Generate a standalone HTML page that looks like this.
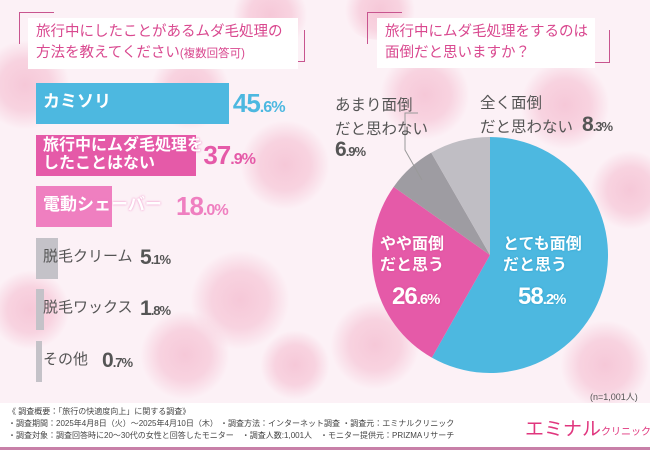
<!DOCTYPE html>
<html><head><meta charset="utf-8"><style>
*{margin:0;padding:0;box-sizing:border-box}
body{width:650px;height:450px;overflow:hidden;font-family:"Liberation Sans","Noto Sans CJK JP",sans-serif;background:#fcf1f6;position:relative}
.fl{position:absolute;border-radius:50%;background:radial-gradient(circle,#f6c8d8 0%,#f8d3e0 40%,rgba(250,225,234,0) 70%)}
.title{position:absolute;background:#fff;color:#d9488f;font-size:14.5px;line-height:21px;padding:4px 8px;white-space:nowrap}
.brk{position:absolute;border-color:#c8558f;border-style:solid}
.bar{position:absolute;left:36px;height:41px}
.lab{position:absolute;font-weight:bold;white-space:nowrap}
.val{position:absolute;font-weight:bold;white-space:nowrap;letter-spacing:-1px}
.val small{font-size:0.62em}
</style></head><body>
<div>
<div class="fl" style="left:-20px;top:40px;width:90px;height:90px"></div>
<div class="fl" style="left:150px;top:50px;width:80px;height:80px"></div>
<div class="fl" style="left:240px;top:120px;width:90px;height:90px"></div>
<div class="fl" style="left:190px;top:250px;width:100px;height:100px"></div>
<div class="fl" style="left:140px;top:310px;width:90px;height:90px"></div>
<div class="fl" style="left:-10px;top:270px;width:80px;height:80px"></div>
<div class="fl" style="left:260px;top:330px;width:70px;height:70px"></div>
<div class="fl" style="left:380px;top:50px;width:90px;height:90px"></div>
<div class="fl" style="left:520px;top:60px;width:90px;height:90px"></div>
<div class="fl" style="left:590px;top:150px;width:80px;height:80px"></div>
<div class="fl" style="left:560px;top:320px;width:90px;height:90px"></div>
<div class="fl" style="left:330px;top:300px;width:90px;height:90px"></div>
<div class="fl" style="left:230px;top:-20px;width:80px;height:70px"></div>
<div class="fl" style="left:340px;top:-20px;width:80px;height:60px"></div>
</div>

<div class="brk" style="left:19px;top:12px;width:35px;height:32px;border-width:1.5px 0 0 1.5px"></div>
<div class="brk" style="left:270px;top:30px;width:35px;height:32px;border-width:0 1.5px 1.5px 0"></div>
<div class="title" style="left:28px;top:18px;width:270px">旅行中にしたことがあるムダ毛処理の<br>方法を教えてください<span style="font-size:11.5px">(複数回答可)</span></div>

<div class="brk" style="left:367px;top:12px;width:35px;height:32px;border-width:1.5px 0 0 1.5px"></div>
<div class="brk" style="left:580px;top:30px;width:30px;height:33px;border-width:0 1.5px 1.5px 0"></div>
<div class="title" style="left:377px;top:18px;width:218px">旅行中にムダ毛処理をするのは<br>面倒だと思いますか？</div>

<div id="bars"></div>
<svg id="pie" width="650" height="450" style="position:absolute;left:0;top:0"></svg>

<div class="lab" style="left:380px;top:234px;color:#fff;font-size:16px;line-height:21px;text-shadow:0 0 2px #d9488f">やや面倒<br>だと思う</div>
<div class="val" style="left:392px;top:283px;color:#fff;font-size:24px;text-shadow:0 0 2px #d9488f">26<small>.6%</small></div>
<div class="lab" style="left:503px;top:234px;color:#fff;font-size:16px;line-height:21px;text-shadow:0 0 2px #2ea0cc">とても面倒<br>だと思う</div>
<div class="val" style="left:518px;top:283px;color:#fff;font-size:24px;text-shadow:0 0 2px #2ea0cc">58<small>.2%</small></div>
<div class="lab" style="left:335px;top:94px;color:#555;font-size:15.5px;line-height:24px;font-weight:normal">あまり面倒<br>だと思わない</div>
<div class="val" style="left:335px;top:138px;color:#555;font-size:21px">6<small>.9%</small></div>
<div class="lab" style="left:480px;top:92px;color:#555;font-size:15.5px;line-height:24px;font-weight:normal">全く面倒<br>だと思わない</div>
<div class="val" style="left:582px;top:113px;color:#555;font-size:21px">8<small>.3%</small></div>
<div style="position:absolute;left:590px;top:390px;font-size:9px;color:#555">(n=1,001人)</div>

<div style="position:absolute;left:0;top:403px;width:650px;height:44px;background:#fff"></div>
<div style="position:absolute;left:0;top:447px;width:650px;height:3px;background:#c880a8"></div>
<div style="position:absolute;left:8px;top:406px;font-size:8px;line-height:12px;color:#444;white-space:nowrap">《 調査概要：「旅行の快適度向上」に関する調査》<br>・調査期間：2025年4月8日（火）～2025年4月10日（木） ・調査方法：インターネット調査 ・調査元：エミナルクリニック<br>・調査対象：調査回答時に20～30代の女性と回答したモニター　・調査人数:1,001人　・モニター提供元：PRIZMAリサーチ</div>
<div style="position:absolute;left:525px;top:414px;color:#e0367e;font-size:19px;white-space:nowrap">エミナル<span style="font-size:10px">クリニック</span></div>

<script>
const barLabels=["カミソリ","旅行中にムダ毛処理を<br>したことはない","電動シェーバー","脱毛クリーム","脱毛ワックス","その他"];
const barValues=[45.6,37.9,18.0,5.1,1.8,0.7];
const barColors=["#4db8e0","#e55aa8","#ef7fc0","#c4c2c8","#c4c2c8","#c4c2c8"];
const pieLabels=["とても面倒だと思う","やや面倒だと思う","あまり面倒だと思わない","全く面倒だと思わない"];
const pieValues=[58.2,26.6,6.9,8.3];
const pieColors=["#4db8e0","#e55aa8","#9e9ca2","#c0bec4"];

const xs=v=>v*4.23;
const rowY=i=>83+i*51.5;
const labelW=[0,0,126,90,90,52];
const bars=document.getElementById('bars');
barValues.forEach((v,i)=>{
  const b=document.createElement('div');
  b.className='bar';
  
  
  const w=Math.max(xs(v),i>=3?6:0);
  b.style.cssText=`top:${rowY(i)}px;width:${w}px;background:${barColors[i]}`;
  bars.appendChild(b);
  const l=document.createElement('div');
  l.className='lab';
  
  
  const white=i<3;
  l.style.cssText=`left:43px;top:${rowY(i)+(i==1?2:10)}px;font-size:${i==1?16:(white?17:15)}px;line-height:18px;color:${white?'#fff':'#555'};${white?'text-shadow:0 0 2px '+barColors[i]:'font-weight:normal'}`;
  l.innerHTML=barLabels[i];
  bars.appendChild(l);
  const t=document.createElement('div');
  t.className='val';
  
  
  const x=Math.max(36+xs(v)+(i==1?7:4),36+labelW[i]+14);
  t.style.cssText=`left:${x}px;top:${rowY(i)+(i<3?5:8)}px;font-size:${i<3?26:21}px;color:${i<3?barColors[i]:'#555'}`;
  const s=v.toFixed(1).split('.');
  t.innerHTML=s[0]+'<small>.'+s[1]+'%</small>';
  bars.appendChild(t);
});

const svg=document.getElementById('pie');
const cx=490,cy=255,r=118;
const tot=pieValues.reduce((a,b)=>a+b,0);
let a0=-Math.PI/2;
pieValues.forEach((v,i)=>{
  const a1=a0+v/tot*2*Math.PI;
  const p=document.createElementNS('http://www.w3.org/2000/svg','path');
  const large=(a1-a0)>Math.PI?1:0;
  p.setAttribute('d',`M${cx},${cy}L${cx+r*Math.cos(a0)},${cy+r*Math.sin(a0)}A${r},${r} 0 ${large} 1 ${cx+r*Math.cos(a1)},${cy+r*Math.sin(a1)}Z`);
  p.setAttribute('fill',pieColors[i]);
  
  
  svg.appendChild(p);
  a0=a1;
});
const ln=document.createElementNS('http://www.w3.org/2000/svg','polyline');
ln.setAttribute('points','422,180 405,150 405,113 418,113');
ln.setAttribute('fill','none');ln.setAttribute('stroke','#999');ln.setAttribute('stroke-width','1');


svg.appendChild(ln);
</script>
</body></html>
